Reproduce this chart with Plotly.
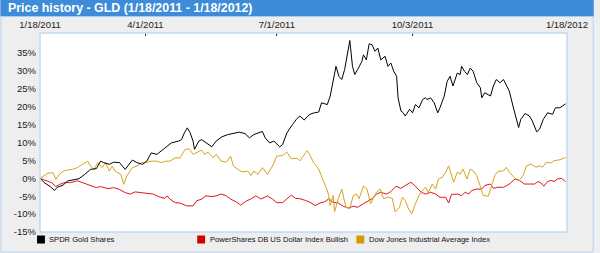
import pandas as pd
import plotly.graph_objects as go

START = "2011-01-18"

# SPDR Gold Shares: day offsets from 1/18/2011 and % change
gold_days = [0, 3, 7, 10, 12, 16, 19, 24, 27, 31, 35, 39, 42, 44, 48, 51, 55, 59, 64, 67, 71, 74, 77, 81, 84, 86.5,
             88, 91, 96, 98, 100, 102, 104, 106, 107, 110, 112, 115, 119, 122, 126, 130, 134, 138, 142, 145, 148,
             152, 154, 156, 159, 162, 166, 168, 171, 175, 178, 180, 183, 185, 187, 190, 193, 195, 199, 201, 203,
             205, 207, 209, 211, 213.5, 214.6, 216.4, 218, 220, 223, 224, 226, 228, 230, 232, 234, 236, 239, 241,
             243, 245, 247, 248, 250, 251.6, 253, 256, 258, 260, 262.5, 265, 267, 268, 270.5, 273, 275.5, 277,
             280, 282, 284, 286, 289, 291, 292, 294, 296, 298, 300, 302.5, 305, 306, 308, 312, 314, 316, 318.5,
             321, 323.5, 325, 327.6, 330, 331.5, 333, 336, 339, 341, 344, 346, 348.6, 351.6, 355, 357, 360, 364]
gold_vals = [0, -1.2, -2.3, -3.4, -2.5, -1.9, -0.75, -0.3, -0.1, 1.1, 2.5, 2.7, 4.8, 4.4, 3.9, 4.5, 4.4, 2.5, 5.1,
             4.4, 3.9, 4.8, 7.1, 6.7, 7.6, 8.5, 8.8, 9.9, 10.4, 10.8, 12.7, 14.1, 12.7, 10.4, 8.1, 10.4, 10.8, 9.9,
             8.8, 10.4, 11.6, 12.2, 12.5, 12.9, 12.5, 11.3, 12.2, 12.9, 13.1, 11.3, 9.9, 10.4, 8.8, 9.4, 12.7, 15.1,
             16.7, 17.4, 16.3, 17.2, 17.9, 18.3, 18.5, 21.1, 20.6, 23.0, 26.7, 31.3, 28.5, 27.6, 30.4, 35.9, 38.5,
             31.3, 29.0, 30.4, 32.7, 34.5, 33.1, 37.6, 37.3, 35.5, 36.4, 33.1, 34.1, 31.3, 32.2, 29.9, 28.5, 22.5,
             18.8, 18.3, 17.4, 19.3, 18.3, 20.6, 19.7, 22.0, 22.5, 22.0, 22.5, 21.1, 18.3, 19.7, 23.0, 27.1, 28.5,
             25.8, 29.4, 29.0, 31.3, 29.9, 29.0, 30.8, 29.9, 26.7, 25.3, 22.5, 23.9, 23.0, 25.8, 27.6, 26.7, 27.6,
             25.8, 24.4, 20.2, 16.0, 14.2, 16.5, 18.1, 17.4, 16.0, 13.0, 13.7, 16.5, 18.3, 17.9, 19.7, 19.7, 20.8]

# PowerShares DB US Dollar Index Bullish
usd_days = [0, 4, 8, 11, 13.5, 17, 21, 26, 31, 35, 39, 42, 47, 51, 55, 59, 62.5, 66, 69, 74, 78.5, 82, 86.5, 88,
            90, 93.6, 97, 101.6, 106, 108.4, 112, 115, 119, 122, 125.5, 129, 132, 136, 139, 143, 146, 149.5, 153,
            157.5, 161, 164, 168, 171, 174, 177, 180, 184, 187, 190.6, 194, 197.5, 200, 203, 206.6, 210, 213.5,
            217, 220, 224, 227, 230, 233, 236, 240, 243, 246.6, 250, 253, 257, 260, 264, 267, 270.5, 274, 277,
            281, 283, 285, 289, 292, 294.5, 297, 299, 302.5, 306, 308, 312, 314, 317, 321, 324, 326.5, 329, 332,
            335.6, 339, 342.5, 345, 347, 349, 351.6, 354, 356, 358.4, 361, 363, 364]
usd_vals = [0, -0.7, -1.2, -2.3, -1.7, -1.2, -1.2, -0.7, -1.4, -2.1, -2.6, -2.3, -2.9, -2.6, -3.1, -4.0, -4.4,
            -3.8, -4.0, -4.2, -4.4, -5.1, -5.6, -4.9, -5.8, -6.8, -6.9, -7.7, -7.7, -6.3, -5.8, -4.9, -5.1, -4.9,
            -4.4, -4.9, -5.8, -6.6, -7.5, -6.3, -5.8, -4.9, -5.8, -4.9, -5.8, -6.8, -6.8, -5.8, -4.7, -5.6, -5.7,
            -6.2, -6.7, -7.6, -6.9, -6.5, -5.7, -6.7, -6.9, -7.8, -8.3, -7.8, -8.1, -7.1, -6.5, -5.7, -4.4, -3.9,
            -4.4, -3.7, -2.2, -2.8, -2.0, -1.1, -2.2, -3.9, -4.4, -3.9, -4.4, -5.3, -5.3, -6.9, -4.5, -4.4, -4.8,
            -3.9, -4.4, -3.4, -3.0, -3.0, -2.0, -1.6, -2.8, -2.5, -2.5, -1.9, -1.1, -0.2, -0.6, -1.6, -1.6, -1.6,
            -0.9, -1.3, -2.2, -0.9, -0.6, -0.9, -0.2, 0.0, -0.6, -0.9]

# Dow Jones Industrial Average Index
dji_days = [0, 3, 5.5, 9, 11, 13.5, 16, 19, 22.6, 26, 29.5, 33, 35, 37.5, 40, 43, 45.4, 48, 50, 52, 56, 58, 60, 64,
            67, 70.5, 74, 77, 81, 84, 87, 90, 93.6, 97, 100.5, 103.4, 106, 108.4, 112, 114, 116.4, 120, 122, 125.5,
            129, 132, 134, 137, 140, 144, 146, 148, 151, 154, 157.5, 161, 164, 168, 171, 174, 178, 180, 183, 185,
            187, 189.5, 193, 196, 198.6, 200, 201, 203, 204, 206.6, 209, 210.5, 212, 214.6, 217, 219, 221, 224,
            226.5, 229, 231, 233, 235.6, 238, 241, 244, 246, 249, 251, 253, 255, 257.5, 260, 262.5, 265, 267, 269,
            271.7, 274, 276, 278.6, 281, 283, 285.4, 286.5, 289, 291, 293, 295.7, 298, 300, 302.5, 305, 307, 310.5,
            313, 315, 317, 321, 323, 325, 329, 332, 334.5, 337, 340, 343.6, 346, 348, 350.5, 354, 356, 360, 364]
dji_vals = [0, 0.8, 1.4, 1.6, -0.3, 1.1, 2.0, 2.3, 2.5, 3.0, 3.9, 4.8, 3.4, 2.5, 4.4, 3.0, 4.4, 2.0, 3.4, 2.0, 1.1,
            -1.7, 0.6, 3.0, 3.4, 4.4, 4.5, 4.8, 4.8, 4.4, 4.8, 4.8, 5.7, 5.7, 8.1, 8.2, 6.7, 7.1, 7.9, 6.7, 7.3, 5.7,
            6.7, 4.8, 4.5, 6.2, 3.4, 2.5, 1.8, 2.0, 0.8, 2.0, 1.1, 3.0, 1.1, 3.4, 6.2, 6.4, 7.3, 5.5, 5.6, 4.9, 6.8,
            7.7, 6.5, 4.4, 2.6, -0.2, -3.0, -4.8, -7.6, -4.8, -9.4, -5.7, -3.0, -5.7, -8.1, -8.5, -4.8, -4.4, -5.7,
            -2.2, -3.0, -7.1, -5.3, -3.9, -3.0, -5.7, -5.3, -5.6, -9.4, -8.1, -5.3, -6.2, -8.3, -9.9, -7.1, -4.8,
            -3.4, -2.5, -3.9, -1.6, -3.0, -0.2, 0.3, 1.7, 3.5, 0.75, -1.1, 1.7, 1.2, 2.6, -0.2, 2.6, 2.1, 0.75,
            -2.5, -4.8, -5.0, -2.0, 0.75, 1.9, 2.1, 3.1, 1.7, 0.0, -0.6, 0.75, 3.5, 4.0, 3.1, 3.5, 3.1, 4.4, 4.3,
            4.9, 5.2, 5.8]

series_names = ["SPDR Gold Shares", "PowerShares DB US Dollar Index Bullish", "Dow Jones Industrial Average Index"]
series_colors = ["#000000", "#E3141C", "#D9A21C"]
legend_colors = ["#000000", "#D40000", "#D29B00"]

tick_dates = ["2011-01-18", "2011-04-01", "2011-07-01", "2011-10-03", "2012-01-18"]
tick_text = ["1/18/2011", "4/1/2011", "7/1/2011", "10/3/2011", "1/18/2012"]
y_ticks = [-15, -10, -5, 0, 5, 10, 15, 20, 25, 30, 35]
y_text = [f"{v}%" for v in y_ticks]

title_text = "Price history - GLD (1/18/2011 - 1/18/2012)"

start = pd.Timestamp(START)


def to_dates(days):
    return [start + pd.Timedelta(hours=round(d * 24)) for d in days]


fig = go.Figure()
order = [(usd_days, usd_vals, 1), (dji_days, dji_vals, 2), (gold_days, gold_vals, 0)]
for days, vals, i in order:
    fig.add_trace(go.Scatter(x=to_dates(days), y=vals, mode="lines", name=series_names[i],
                             line=dict(color=series_colors[i], width=1), showlegend=False,
                             hoverinfo="skip"))

W, H = 600, 253
L, R, T, B = 40, 27, 33, 21
pw, ph = W - L - R, H - T - B


def px_x(x):
    return (x - L) / pw


def px_y(y):
    return (H - B - y) / ph


FONT = "Liberation Sans, Arial, sans-serif"

shapes = [
    # outer border
    dict(type="rect", xref="paper", yref="paper", x0=px_x(0.5), x1=px_x(599.5), y0=px_y(252), y1=px_y(0.5),
         line=dict(color="#B9D3EE", width=1), fillcolor="rgba(0,0,0,0)", layer="below"),
    # title bar
    dict(type="rect", xref="paper", yref="paper", x0=px_x(0), x1=px_x(600), y0=px_y(16), y1=px_y(0),
         line=dict(width=0), fillcolor="#3D8BD9", layer="below"),
    dict(type="line", xref="paper", yref="paper", x0=px_x(0), x1=px_x(600), y0=px_y(16.5), y1=px_y(16.5),
         line=dict(color="#A9CBEF", width=1), layer="below"),
    # plot frame
    dict(type="rect", xref="paper", yref="paper", x0=0, x1=1, y0=0, y1=1,
         line=dict(color="#C2D9F1", width=1.5), fillcolor="rgba(0,0,0,0)", layer="above"),
]

annotations = [
    dict(text=title_text, xref="paper", yref="paper", x=px_x(6), y=px_y(8.5), xanchor="left",
         yanchor="middle", showarrow=False,
         font=dict(family=FONT, size=12.4, color="white", weight="bold")),
]

legend_x = [37, 199, 360]
for i, lx in enumerate(legend_x):
    shapes.append(dict(type="rect", xref="paper", yref="paper", x0=px_x(lx), x1=px_x(lx + 8),
                       y0=px_y(243.5), y1=px_y(235.5), line=dict(width=0), fillcolor=legend_colors[i]))
    annotations.append(dict(text=series_names[i], xref="paper", yref="paper", x=px_x(lx + 10.5),
                            y=px_y(239.5), xanchor="left", yanchor="middle", showarrow=False,
                            font=dict(family=FONT, size=7.6, color="#111111")))

fig.update_layout(
    width=W, height=H,
    margin=dict(l=L, r=R, t=T, b=B, pad=0),
    paper_bgcolor="#EEEEEE",
    plot_bgcolor="#FFFFFF",
    shapes=shapes,
    annotations=annotations,
    font=dict(family=FONT, size=9.5, color="#222222"),
    xaxis=dict(
        type="date", side="top",
        range=[pd.Timestamp("2011-01-18"), pd.Timestamp("2012-01-18")],
        tickvals=[pd.Timestamp(d) for d in tick_dates], ticktext=tick_text,
        ticks="inside", ticklen=3, tickcolor="#333333", tickwidth=1,
        showgrid=False, zeroline=False, showline=False,
        tickfont=dict(size=9.5, color="#222222"), ticklabelstandoff=2,
    ),
    yaxis=dict(
        range=[-15, 40.6], tickvals=y_ticks, ticktext=y_text,
        ticks="", showgrid=False, zeroline=False, showline=False,
        tickfont=dict(size=9.5, color="#222222"), ticklabelstandoff=3,
    ),
    hovermode=False,
)

fig.write_html("out.html")
